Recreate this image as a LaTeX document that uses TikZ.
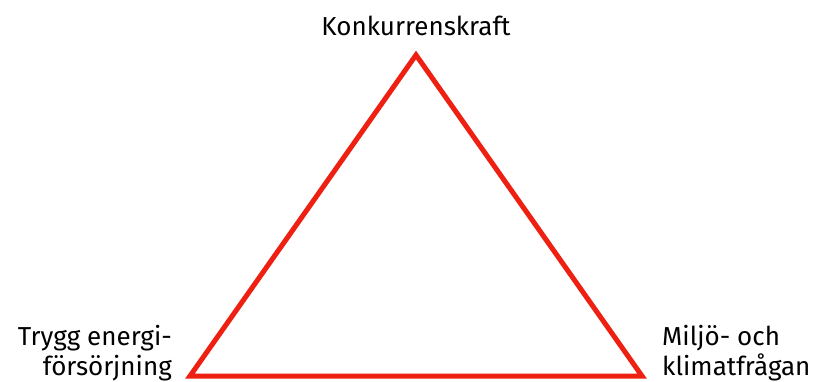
\documentclass[tikz,border=0pt]{standalone}
\usepackage{fontspec}
\setmainfont{Fira Sans}
\definecolor{trired}{RGB}{238,32,18}
\begin{document}
\begin{tikzpicture}[x=1pt,y=-1pt,
  lbl/.style={font=\fontsize{26}{30}\selectfont, inner sep=0pt, text=black}]
\useasboundingbox[fill=white] (0,0) rectangle (818,382);
\coordinate (top) at (416,55);
\coordinate (bl) at (190,376);
\coordinate (br) at (642,376);
\draw[trired, line width=5pt, line join=miter] (top) -- (bl) -- (br) -- cycle;
\node[lbl, anchor=base] (k) at (416,36) {Konkurrenskraft};
\node[lbl, anchor=base east, align=right] (t) at (172,375) {Trygg energi-\\försörjning};
\node[lbl, anchor=base west, align=left] (m) at (662,375) {Miljö- och\\klimatfrågan};
\end{tikzpicture}
\end{document}
